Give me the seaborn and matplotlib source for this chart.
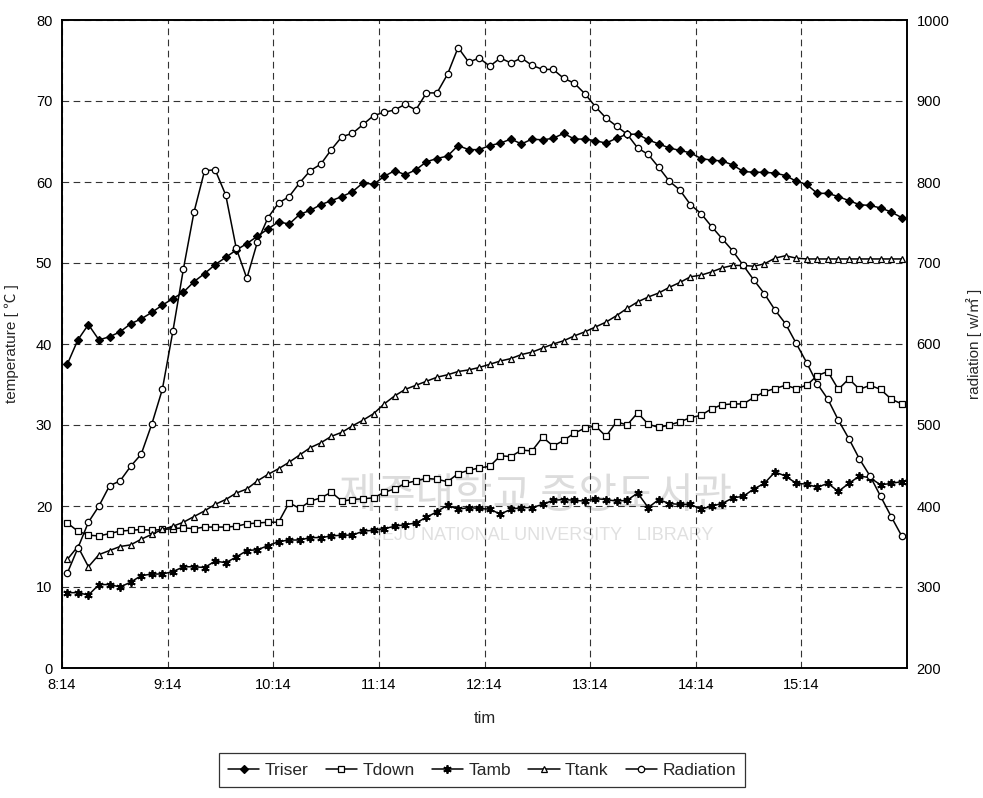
import numpy as np
import pandas as pd
import matplotlib
matplotlib.use("Agg")
import matplotlib.pyplot as plt
import seaborn as sns

# ---------------- data ----------------
tick_labels = ["8:14", "9:14", "10:14", "11:14", "12:14", "13:14", "14:14", "15:14"]

triser = [37.5, 40.5, 42.4, 40.5, 40.9, 41.5, 42.5, 43.1, 43.9, 44.8,
          45.6, 46.4, 47.7, 48.7, 49.8, 50.7, 51.6, 52.4, 53.3, 54.2,
          55.1, 54.8, 56.0, 56.5, 57.2, 57.7, 58.2, 58.8, 59.9, 59.7,
          60.7, 61.4, 60.9, 61.5, 62.5, 62.9, 63.2, 64.5, 64.0, 64.0,
          64.5, 64.8, 65.3, 64.7, 65.3, 65.2, 65.4, 66.0, 65.3, 65.3,
          65.1, 64.8, 65.4, 65.9, 65.9, 65.2, 64.7, 64.2, 63.9, 63.6,
          62.9, 62.7, 62.6, 62.1, 61.3, 61.2, 61.2, 61.1, 60.8, 60.1,
          59.7, 58.6, 58.6, 58.2, 57.7, 57.2, 57.1, 56.8, 56.3, 55.6]

tdown = [17.9, 16.9, 16.4, 16.3, 16.6, 16.9, 17.0, 17.1, 17.0, 17.1,
         17.2, 17.3, 17.2, 17.4, 17.4, 17.4, 17.5, 17.8, 17.9, 18.0,
         18.0, 20.4, 19.7, 20.6, 21.0, 21.7, 20.6, 20.8, 20.9, 21.0,
         21.7, 22.1, 22.8, 23.1, 23.4, 23.3, 23.0, 24.0, 24.4, 24.7,
         24.9, 26.2, 26.1, 26.9, 26.8, 28.5, 27.4, 28.1, 29.0, 29.6,
         29.9, 28.6, 30.4, 30.0, 31.5, 30.1, 29.7, 30.0, 30.4, 30.9,
         31.2, 32.0, 32.5, 32.6, 32.6, 33.4, 34.1, 34.5, 34.9, 34.5,
         34.9, 36.1, 36.6, 34.4, 35.7, 34.4, 34.9, 34.4, 33.2, 32.6]

tamb = [9.3, 9.3, 9.0, 10.3, 10.3, 10.0, 10.6, 11.4, 11.6, 11.6,
        11.9, 12.5, 12.5, 12.4, 13.2, 13.0, 13.7, 14.5, 14.6, 15.1,
        15.6, 15.8, 15.8, 16.1, 16.1, 16.3, 16.4, 16.4, 16.9, 17.0,
        17.2, 17.5, 17.7, 17.9, 18.6, 19.3, 20.1, 19.6, 19.8, 19.7,
        19.6, 19.0, 19.6, 19.8, 19.8, 20.2, 20.7, 20.8, 20.7, 20.6,
        20.9, 20.8, 20.6, 20.7, 21.6, 19.8, 20.8, 20.3, 20.2, 20.2,
        19.6, 20.0, 20.3, 21.0, 21.2, 22.1, 22.8, 24.2, 23.7, 22.8,
        22.7, 22.3, 22.8, 21.8, 22.8, 23.7, 23.5, 22.6, 22.8, 23.0]

ttank = [13.4, 15.0, 12.5, 14.0, 14.5, 15.0, 15.2, 15.9, 16.5, 17.1,
         17.5, 18.0, 18.7, 19.4, 20.2, 20.8, 21.6, 22.1, 23.1, 23.9,
         24.6, 25.4, 26.3, 27.2, 27.8, 28.6, 29.1, 29.9, 30.6, 31.4,
         32.6, 33.6, 34.4, 34.9, 35.4, 35.9, 36.2, 36.6, 36.8, 37.1,
         37.5, 37.9, 38.2, 38.7, 39.0, 39.5, 40.0, 40.4, 41.0, 41.5,
         42.1, 42.7, 43.5, 44.4, 45.2, 45.8, 46.3, 47.0, 47.6, 48.3,
         48.5, 48.9, 49.4, 49.7, 49.7, 49.6, 49.9, 50.6, 50.9, 50.6,
         50.5, 50.5, 50.5, 50.5, 50.5, 50.5, 50.5, 50.5, 50.5, 50.5]

radiation = [317, 348, 380, 400, 425, 431, 449, 464, 501, 544,
             616, 693, 763, 814, 815, 784, 718, 681, 726, 756,
             774, 782, 799, 814, 822, 840, 856, 860, 871, 882,
             886, 889, 896, 889, 910, 910, 933, 966, 948, 953,
             943, 953, 947, 953, 944, 939, 939, 928, 922, 909,
             893, 879, 869, 859, 842, 834, 818, 801, 790, 772,
             761, 745, 730, 715, 697, 679, 662, 642, 625, 601,
             577, 551, 532, 506, 483, 458, 437, 412, 387, 363]

# ---------------- figure ----------------
sns.set_theme(style="white")
plt.rcParams["font.family"] = ["Liberation Sans", "Noto Sans CJK KR", "DejaVu Sans"]

W, H = 983, 798
fig = plt.figure(figsize=(W / 100, H / 100), dpi=100)
L, R, T, B = 62, 907, 20, 668
ax = fig.add_axes([L / W, 1 - B / H, (R - L) / W, (B - T) / H])
ax2 = ax.twinx()

n = len(triser)
df = pd.DataFrame({
    "pos": np.arange(n) + 0.5,
    "Triser": triser, "Tdown": tdown, "Tamb": tamb, "Ttank": ttank,
    "Radiation": radiation,
})

lw = 1.1
ms = 4.6
common = dict(color="black", linewidth=lw, markersize=ms, markeredgecolor="black",
              markeredgewidth=0.9)

sns.lineplot(data=df, x="pos", y="Triser", ax=ax, marker="D", markerfacecolor="black",
             label="Triser", legend=False, **{**common, "markersize": 4.2})
sns.lineplot(data=df, x="pos", y="Tdown", ax=ax, marker="s", markerfacecolor="white",
             label="Tdown", legend=False, **common)
sns.lineplot(data=df, x="pos", y="Tamb", ax=ax, marker=(6, 2, 0), markerfacecolor="black",
             label="Tamb", legend=False, **{**common, "markersize": 6.0, "markeredgewidth": 1.3})
sns.lineplot(data=df, x="pos", y="Ttank", ax=ax, marker="^", markerfacecolor="white",
             label="Ttank", legend=False, **common)
sns.lineplot(data=df, x="pos", y="Radiation", ax=ax2, marker="o", markerfacecolor="white",
             label="Radiation", legend=False, **common)

ax.set_xlim(0, n)
ax.set_ylim(0, 80)
ax2.set_ylim(200, 1000)
ax.set_yticks(np.arange(0, 81, 10))
ax2.set_yticks(np.arange(200, 1001, 100))
ax.set_xticks(np.arange(0, n, 10))
ax.set_xticklabels(tick_labels)

ax.grid(True, linestyle=(0, (6, 4)), color="#333333", linewidth=0.8)
ax2.grid(False)
ax.set_axisbelow(True)

for a in (ax, ax2):
    for s in a.spines.values():
        s.set_color("black")
        s.set_linewidth(1.2)
    a.tick_params(axis="both", labelsize=10.5, colors="black", length=0, pad=7)

ax.set_xlabel("tim", fontsize=12, labelpad=14)
ax.set_ylabel("temperature [ ℃ ]", fontsize=11, labelpad=12)
ax2.set_ylabel("radiation [ w/㎡ ]", fontsize=11, labelpad=12)

# faint library watermark from the scanned source
ax.text(0.56, 0.265, "제주대학교 중앙도서관", transform=ax.transAxes, fontsize=30,
        color="#dcdcdc", ha="center", va="center", zorder=0.5,
        family=["Noto Sans CJK KR"])
ax.text(0.57, 0.205, "JEJU NATIONAL UNIVERSITY   LIBRARY", transform=ax.transAxes,
        fontsize=13, color="#e0e0e0", ha="center", va="center", zorder=0.5)

h1, l1 = ax.get_legend_handles_labels()
h2, l2 = ax2.get_legend_handles_labels()
leg = fig.legend(h1 + h2, l1 + l2, loc="lower center", bbox_to_anchor=(482 / W, 2 / H),
                 ncol=5, frameon=True, fancybox=False, edgecolor="black", fontsize=12.5,
                 handlelength=1.8, columnspacing=1.0, handletextpad=0.3,
                 borderpad=0.55)
leg.get_frame().set_linewidth(0.9)

fig.savefig("out.png", dpi=100, facecolor="white")
